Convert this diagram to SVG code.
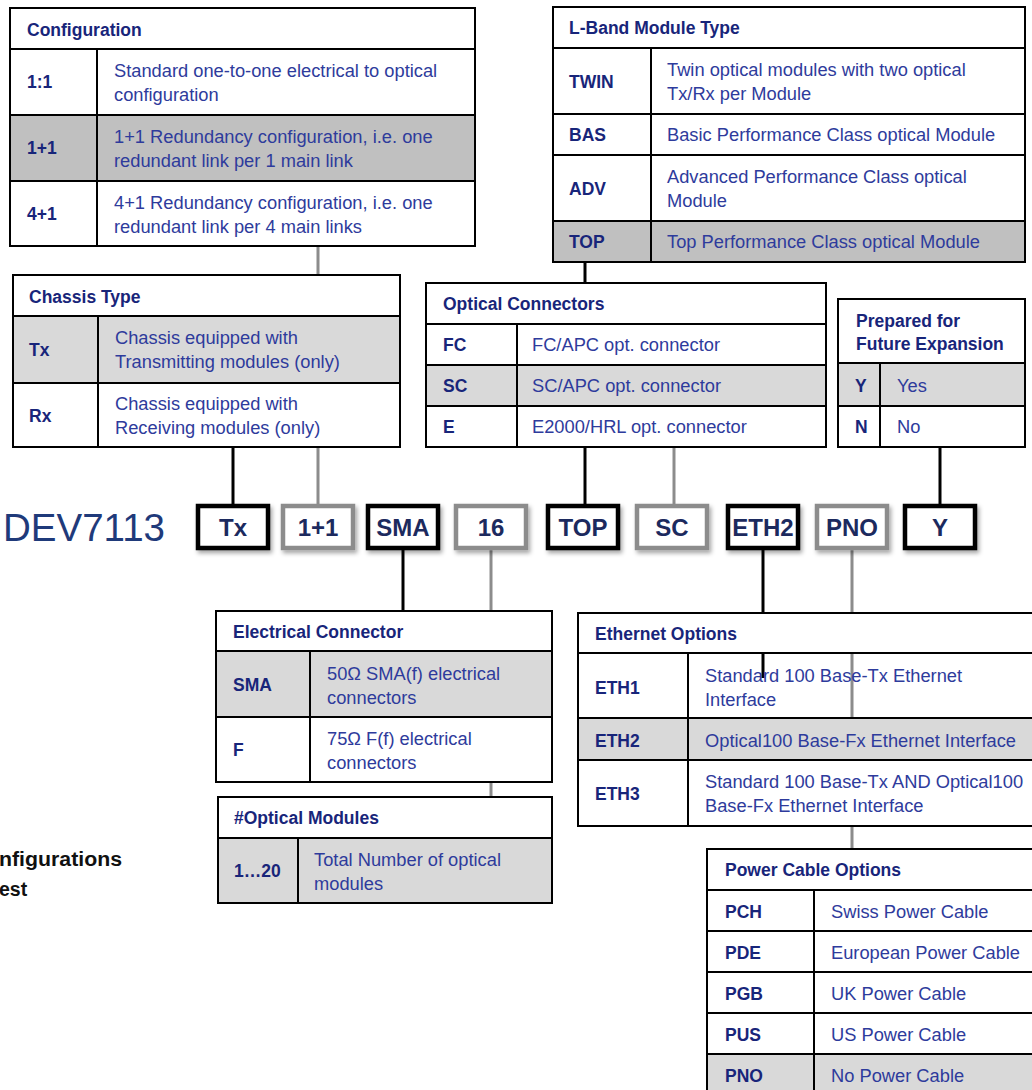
<svg xmlns="http://www.w3.org/2000/svg" width="1032" height="1090" viewBox="0 0 1032 1090">
<defs>
<style>
text{font-family:"Liberation Sans",Arial,sans-serif}
.h{font-size:17.5px;font-weight:bold;fill:#18257a}
.k{font-size:17.5px;font-weight:bold;fill:#18257a}
.d{font-size:18.3px;fill:#2e3b9c}
.w{fill:#fff;stroke:#000;stroke-width:2}
.g{fill:#d9d9d9;stroke:#000;stroke-width:2}
.gd{fill:#c0c0c0;stroke:#000;stroke-width:2}
.n{fill:none;stroke:#000;stroke-width:2}
.dv{stroke:#000;stroke-width:2}
.cb{stroke:#000;stroke-width:3;fill:none}
.cg{stroke:#8c8c8c;stroke-width:3;fill:none}
.bb{fill:#fff;stroke:#000;stroke-width:4.5}
.bg{fill:#fff;stroke:#8c8c8c;stroke-width:4.5}
.bt{font-size:24px;font-weight:bold;fill:#1c2a5e;text-anchor:middle}
.nt{font-size:19.5px;font-weight:bold;fill:#111}
</style>
<filter id="sh" x="-20%" y="-20%" width="150%" height="150%">
<feDropShadow dx="2" dy="3" stdDeviation="2" flood-color="#000" flood-opacity="0.35"/>
</filter>
</defs>
<rect width="1032" height="1090" fill="#fff"/>

<g id="connectors">
<line class="cb" x1="233" y1="447" x2="233" y2="506"/>
<line class="cg" x1="318" y1="246" x2="318" y2="506"/>
<line class="cb" x1="403" y1="548" x2="403" y2="611"/>
<line class="cg" x1="491" y1="548" x2="491" y2="797"/>
<line class="cb" x1="585" y1="262" x2="585" y2="506"/>
<line class="cg" x1="674" y1="447" x2="674" y2="506"/>
<line class="cb" x1="763" y1="548" x2="763" y2="678"/>
<line class="cg" x1="852" y1="548" x2="852" y2="849"/>
<line class="cb" x1="940" y1="447" x2="940" y2="506"/>
</g>

<g id="configuration">
<rect class="w" x="10" y="8" width="465" height="41"/>
<rect class="w" x="10" y="49" width="465" height="66"/>
<rect class="gd" x="10" y="115" width="465" height="66"/>
<rect class="w" x="10" y="181" width="465" height="65"/>
<line class="dv" x1="97" y1="49" x2="97" y2="246"/>
<text class="h" x="27" y="36">Configuration</text>
<text class="k" x="27" y="88">1:1</text>
<text class="d" x="114" y="77">Standard one-to-one electrical to optical</text>
<text class="d" x="114" y="101">configuration</text>
<text class="k" x="27" y="154">1+1</text>
<text class="d" x="114" y="143">1+1 Redundancy configuration, i.e. one</text>
<text class="d" x="114" y="167">redundant link per 1 main link</text>
<text class="k" x="27" y="220">4+1</text>
<text class="d" x="114" y="209">4+1 Redundancy configuration, i.e. one</text>
<text class="d" x="114" y="233">redundant link per 4 main links</text>
</g>

<g id="lband">
<rect class="w" x="553" y="7" width="472" height="41"/>
<rect class="w" x="553" y="48" width="472" height="66"/>
<rect class="w" x="553" y="114" width="472" height="41"/>
<rect class="w" x="553" y="155" width="472" height="66"/>
<rect class="gd" x="553" y="221" width="472" height="41"/>
<line class="dv" x1="651" y1="48" x2="651" y2="262"/>
<text class="h" x="569" y="34">L-Band Module Type</text>
<text class="k" x="569" y="88">TWIN</text>
<text class="d" x="667" y="76">Twin optical modules with two optical</text>
<text class="d" x="667" y="100">Tx/Rx per Module</text>
<text class="k" x="569" y="141">BAS</text>
<text class="d" x="667" y="141">Basic Performance Class optical Module</text>
<text class="k" x="569" y="195">ADV</text>
<text class="d" x="667" y="183">Advanced Performance Class optical</text>
<text class="d" x="667" y="207">Module</text>
<text class="k" x="569" y="248">TOP</text>
<text class="d" x="667" y="248">Top Performance Class optical Module</text>
</g>

<g id="chassis">
<rect class="w" x="13" y="275" width="387" height="41"/>
<rect class="g" x="13" y="316" width="387" height="67"/>
<rect class="w" x="13" y="383" width="387" height="64"/>
<line class="dv" x1="98" y1="316" x2="98" y2="447"/>
<text class="h" x="29" y="303">Chassis Type</text>
<text class="k" x="29" y="356">Tx</text>
<text class="d" x="115" y="344">Chassis equipped with</text>
<text class="d" x="115" y="368">Transmitting modules (only)</text>
<text class="k" x="29" y="422">Rx</text>
<text class="d" x="115" y="410">Chassis equipped with</text>
<text class="d" x="115" y="434">Receiving modules (only)</text>
</g>

<g id="optical-connectors">
<rect class="w" x="426" y="283" width="400" height="41"/>
<rect class="w" x="426" y="324" width="400" height="41"/>
<rect class="g" x="426" y="365" width="400" height="41"/>
<rect class="w" x="426" y="406" width="400" height="41"/>
<line class="dv" x1="517" y1="324" x2="517" y2="447"/>
<text class="h" x="443" y="310">Optical Connectors</text>
<text class="k" x="443" y="351">FC</text>
<text class="d" x="532" y="351">FC/APC opt. connector</text>
<text class="k" x="443" y="392">SC</text>
<text class="d" x="532" y="392">SC/APC opt. connector</text>
<text class="k" x="443" y="433">E</text>
<text class="d" x="532" y="433">E2000/HRL opt. connector</text>
</g>

<g id="future-expansion">
<rect class="w" x="838" y="299" width="187" height="64"/>
<rect class="g" x="838" y="363" width="187" height="43"/>
<rect class="w" x="838" y="406" width="187" height="41"/>
<line class="dv" x1="880" y1="363" x2="880" y2="447"/>
<text class="h" x="856" y="327">Prepared for</text>
<text class="h" x="856" y="350">Future Expansion</text>
<text class="k" x="855" y="392">Y</text>
<text class="d" x="897" y="392">Yes</text>
<text class="k" x="855" y="433">N</text>
<text class="d" x="897" y="433">No</text>
</g>

<g id="part-number">
<text x="3" y="541" style="font-size:38.5px;fill:#1f3a7a">DEV7113</text>
<g filter="url(#sh)">
<rect class="bb" x="198" y="506" width="70" height="42"/>
<rect class="bg" x="283" y="506" width="70" height="42"/>
<rect class="bb" x="368" y="506" width="70" height="42"/>
<rect class="bg" x="456" y="506" width="70" height="42"/>
<rect class="bb" x="548" y="506" width="70" height="42"/>
<rect class="bg" x="637" y="506" width="70" height="42"/>
<rect class="bb" x="728" y="506" width="70" height="42"/>
<rect class="bg" x="817" y="506" width="70" height="42"/>
<rect class="bb" x="905" y="506" width="70" height="42"/>
</g>
<text class="bt" x="233" y="536">Tx</text>
<text class="bt" x="318" y="536">1+1</text>
<text class="bt" x="403" y="536">SMA</text>
<text class="bt" x="491" y="536">16</text>
<text class="bt" x="583" y="536">TOP</text>
<text class="bt" x="672" y="536">SC</text>
<text class="bt" x="763" y="536">ETH2</text>
<text class="bt" x="852" y="536">PNO</text>
<text class="bt" x="940" y="536">Y</text>
</g>

<g id="electrical-connector">
<rect class="w" x="216" y="611" width="336" height="40"/>
<rect class="g" x="216" y="651" width="336" height="66"/>
<rect class="w" x="216" y="717" width="336" height="65"/>
<line class="dv" x1="310" y1="651" x2="310" y2="782"/>
<text class="h" x="233" y="638">Electrical Connector</text>
<text class="k" x="233" y="691">SMA</text>
<text class="d" x="327" y="680">50Ω SMA(f) electrical</text>
<text class="d" x="327" y="704">connectors</text>
<text class="k" x="233" y="756">F</text>
<text class="d" x="327" y="745">75Ω F(f) electrical</text>
<text class="d" x="327" y="769">connectors</text>
</g>

<g id="optical-modules">
<rect class="w" x="218" y="797" width="334" height="41"/>
<rect class="g" x="218" y="838" width="334" height="65"/>
<line class="dv" x1="298" y1="838" x2="298" y2="903"/>
<text class="h" x="234" y="824">#Optical Modules</text>
<text class="k" x="234" y="877">1…20</text>
<text class="d" x="314" y="866">Total Number of optical</text>
<text class="d" x="314" y="890">modules</text>
</g>

<g id="ethernet">
<rect class="w" x="578" y="613" width="462" height="40"/>
<rect class="n" x="578" y="653" width="462" height="65"/>
<rect class="g" x="578" y="718" width="462" height="42"/>
<rect class="w" x="578" y="760" width="462" height="66"/>
<line class="dv" x1="688" y1="653" x2="688" y2="826"/>
<text class="h" x="595" y="640">Ethernet Options</text>
<text class="k" x="595" y="694">ETH1</text>
<text class="d" x="705" y="682">Standard 100 Base-Tx Ethernet</text>
<text class="d" x="705" y="706">Interface</text>
<text class="k" x="595" y="747">ETH2</text>
<text class="d" x="705" y="747">Optical100 Base-Fx Ethernet Interface</text>
<text class="k" x="595" y="800">ETH3</text>
<text class="d" x="705" y="788">Standard 100 Base-Tx AND Optical100</text>
<text class="d" x="705" y="812">Base-Fx Ethernet Interface</text>
</g>

<g id="power-cable">
<rect class="w" x="707" y="849" width="333" height="41"/>
<rect class="w" x="707" y="890" width="333" height="41"/>
<rect class="w" x="707" y="931" width="333" height="41"/>
<rect class="w" x="707" y="972" width="333" height="41"/>
<rect class="w" x="707" y="1013" width="333" height="41"/>
<rect class="g" x="707" y="1054" width="333" height="41"/>
<line class="dv" x1="814" y1="890" x2="814" y2="1095"/>
<text class="h" x="725" y="876">Power Cable Options</text>
<text class="k" x="725" y="918">PCH</text>
<text class="d" x="831" y="918">Swiss Power Cable</text>
<text class="k" x="725" y="959">PDE</text>
<text class="d" x="831" y="959">European Power Cable</text>
<text class="k" x="725" y="1000">PGB</text>
<text class="d" x="831" y="1000">UK Power Cable</text>
<text class="k" x="725" y="1041">PUS</text>
<text class="d" x="831" y="1041">US Power Cable</text>
<text class="k" x="725" y="1082">PNO</text>
<text class="d" x="831" y="1082">No Power Cable</text>
</g>

<g id="note">
<text class="nt" x="-1" y="866" textLength="123" lengthAdjust="spacingAndGlyphs">nfigurations</text>
<text class="nt" x="-1" y="896">est</text>
</g>
</svg>
